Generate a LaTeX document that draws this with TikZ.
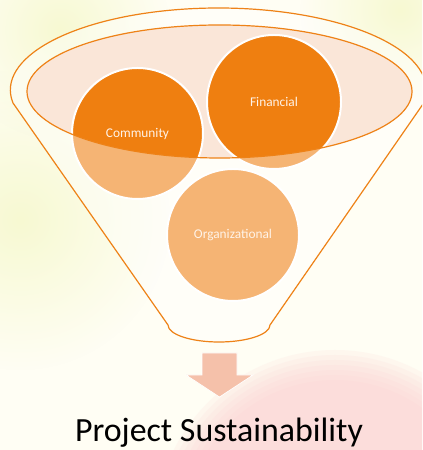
\documentclass[tikz,border=0pt]{standalone}
\usepackage{fontspec}
\setmainfont{Carlito}
\usetikzlibrary{fadings}
\tikzfading[name=softblob, inner color=transparent!0, outer color=transparent!100]
\definecolor{bgc}{HTML}{FFFEF4}
\definecolor{yelc}{HTML}{F7F9D2}
\definecolor{pinkc}{HTML}{FCD3D3}
\definecolor{orangeD}{HTML}{EF7F10}
\definecolor{lineo}{HTML}{EE8217}
\definecolor{peach}{HTML}{FAE6D8}
\definecolor{arrc}{HTML}{F5C1AA}
\definecolor{labc}{HTML}{FFF3E8}
\tikzset{
  circ/.style={circle, fill=orangeD, draw=white, line width=2bp, minimum size=#1, inner sep=0pt},
  lbl/.style={text=labc, font=\fontsize{13.4}{16}\selectfont, inner sep=0pt},
  funline/.style={draw=lineo, line width=1.2bp},
}
\begin{document}
\begin{tikzpicture}[x=1bp,y=1bp]
\useasboundingbox (0,0) rectangle (422,450);
\begin{scope}
\clip (0,0) rectangle (422,450);
% background
\fill[bgc] (0,0) rectangle (422,450);
\fill[yelc, path fading=softblob] (20,230) circle (150bp);
\fill[yelc, path fading=softblob] (60,420) circle (110bp);
\fill[yelc, path fading=softblob] (400,440) circle (100bp);
\foreach \r in {150,155,...,180} \fill[pinkc, opacity=0.16] (335,-80) circle (\r bp);
% inner ellipse
\fill[peach] (219.5,358.5) ellipse [x radius=192.5bp, y radius=66.5bp];
% circles
\node[circ=131bp] (comm) at (137.5,316.5) {};
\node[circ=134bp] (fin) at (274,348) {};
\node[circ=132bp] (org) at (233,215) {};
% white veil over funnel body below the inner ellipse
\fill[white, opacity=0.42, even odd rule]
  (13,347) arc[start angle=189.12, end angle=-9.12, x radius=208bp, y radius=82bp]
  -- (270,125) arc[start angle=0, end angle=-180, x radius=51bp, y radius=17bp] -- cycle
  (219.5,358.5) ellipse [x radius=192.5bp, y radius=66.5bp];
% outlines
\draw[funline] (219.5,358.5) ellipse [x radius=192.5bp, y radius=66.5bp];
\draw[funline] (13,347) arc[start angle=189.12, end angle=-9.12, x radius=208bp, y radius=82bp]
  -- (270,125) arc[start angle=0, end angle=-180, x radius=51bp, y radius=17bp] -- cycle;
% labels
\node[lbl] at (comm) {Community};
\node[lbl] at (fin) {Financial};
\node[lbl] at (org) {Organizational};
% arrow
\coordinate (atip) at (219.5,53);
\fill[arrc, draw=white, line width=0.7bp] (202,97) -- (237,97) -- (237,75) -- (253,75) -- (atip) -- (186,75) -- (202,75) -- cycle;
% title
\node[anchor=base, inner sep=0pt, font=\fontsize{34}{40}\selectfont] (title) at (219,8.5) {Project Sustainability};
\end{scope}
\end{tikzpicture}
\end{document}
